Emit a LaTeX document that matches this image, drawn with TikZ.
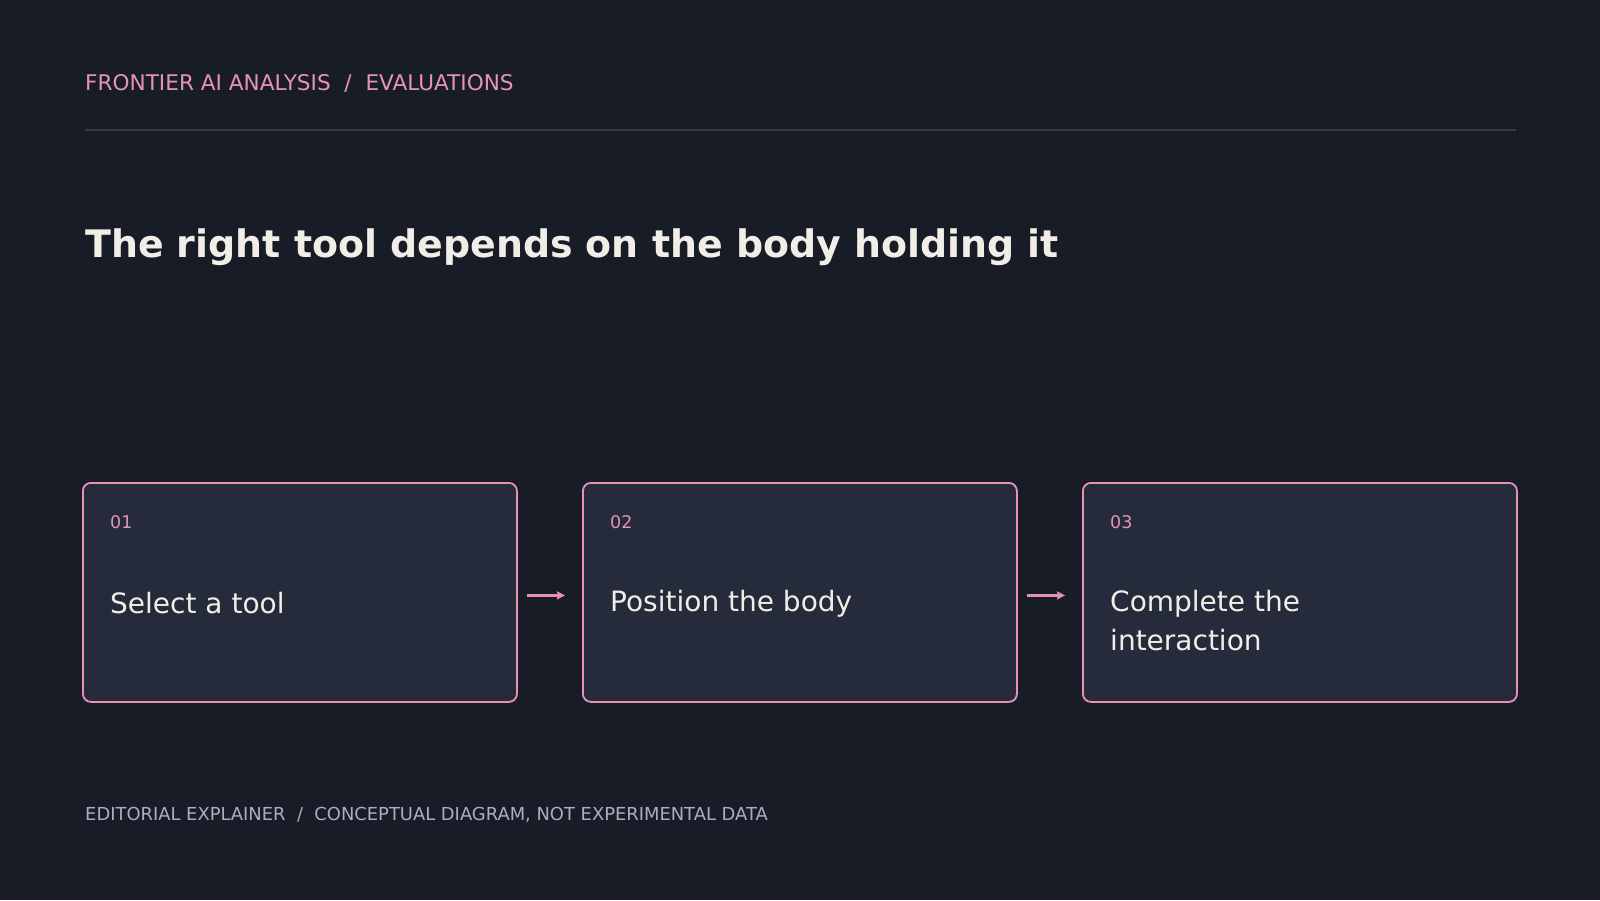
\documentclass[tikz,border=0pt]{standalone}
\usepackage{fontspec}
\setmainfont{DejaVu Sans}
\usetikzlibrary{arrows.meta}

\definecolor{bgdark}{HTML}{181C27}
\definecolor{boxfill}{HTML}{252B3B}
\definecolor{pinkline}{HTML}{E693B4}
\definecolor{rulegrey}{HTML}{373C48}
\definecolor{creamtext}{HTML}{F1EEE8}
\definecolor{greytext}{HTML}{A8AFC0}

\begin{document}
\begin{tikzpicture}[x=1pt,y=-1pt,
  label text/.style={anchor=base west, inner sep=0pt},
  stepbox/.style={draw=pinkline, line width=1.8pt, fill=boxfill, rounded corners=8pt,
    anchor=north west, minimum width=434pt, minimum height=219pt, inner sep=0pt},
  stepnum/.style={label text, text=pinkline, font=\fontsize{17.5}{21}\selectfont},
  steptext/.style={label text, text=creamtext, align=left, font=\fontsize{28}{39}\selectfont},
  flow/.style={draw=pinkline, line width=2.6pt, -{Stealth[length=8pt,width=8pt,inset=1pt]},
    shorten <=9pt, shorten >=17pt, transform canvas={yshift=-3pt}}]

  % Background
  \fill[bgdark] (0,0) rectangle (1600,900);
  \useasboundingbox (0,0) rectangle (1600,900);

  % Header
  \node[label text, text=pinkline, font=\fontsize{21.6}{26}\selectfont] (kicker) at (85,90)
    {FRONTIER AI ANALYSIS \ / \ EVALUATIONS};
  \coordinate (rulel) at (85,130);
  \coordinate (ruler) at (1516,130);
  \draw[rulegrey, line width=1.5pt] (rulel) -- (ruler);

  % Title
  \node[label text, text=creamtext, font=\fontsize{37.9}{46}\selectfont\bfseries] (title) at (85,257)
    {The right tool depends on the body holding it};

  % Steps
  \node[stepbox] (b1) at (82,482) {};
  \node[stepbox] (b2) at (582,482) {};
  \node[stepbox] (b3) at (1082,482) {};

  \node[stepnum] (n1) at (110,528) {01};
  \node[stepnum] (n2) at (610,528) {02};
  \node[stepnum] (n3) at (1110,528) {03};

  \node[steptext] (t1) at (110,613) {Select a tool};
  \node[steptext] (t2) at (610,611) {Position the body};
  \node[steptext] (t3) at (1110,650) {Complete the\\interaction};

  % Arrows
  \draw[flow] (b1.east) -- (b2.west);
  \draw[flow] (b2.east) -- (b3.west);

  % Footer
  \node[label text, text=greytext, font=\fontsize{17.9}{22}\selectfont] (footer) at (85,820)
    {EDITORIAL EXPLAINER \ / \ CONCEPTUAL DIAGRAM, NOT EXPERIMENTAL DATA};

\end{tikzpicture}
\end{document}
